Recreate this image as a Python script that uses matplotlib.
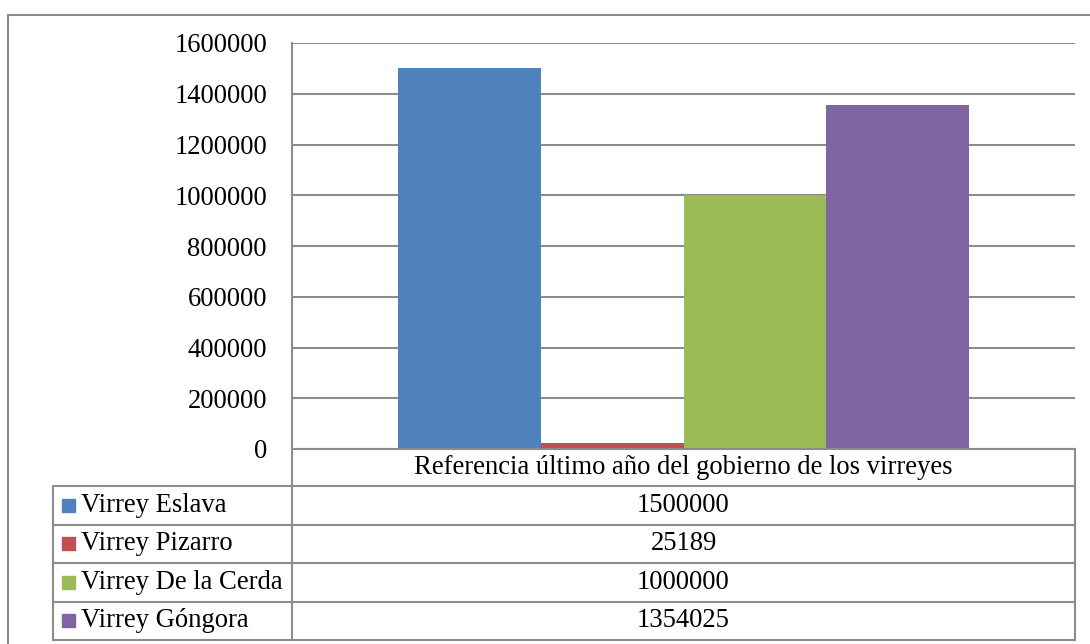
import matplotlib
matplotlib.use('Agg')
import matplotlib.pyplot as plt
from matplotlib.patches import Rectangle
from matplotlib.lines import Line2D

series = ['Virrey Eslava', 'Virrey Pizarro', 'Virrey De la Cerda', 'Virrey Góngora']
values = [1500000, 25189, 1000000, 1354025]
colors = ['#4F81BD', '#C0504D', '#9BBB59', '#8064A2']
category = 'Referencia último año del gobierno de los virreyes'
yticks = [0, 200000, 400000, 600000, 800000, 1000000, 1200000, 1400000, 1600000]

plt.rcParams['font.family'] = ['Liberation Serif', 'DejaVu Serif']
FS = 19.2
GRID = '#8C8C8C'

W, H = 1090, 644
fig = plt.figure(figsize=(W / 100, H / 100), dpi=100)

# pixel helpers (y measured from top)
def fx(px):
    return px / W

def fy(py):
    return 1 - py / H

left, right, top, zero = 292, 1075, 43, 449
ax = fig.add_axes([fx(left), fy(zero), fx(right - left), (zero - top) / H])

w = 0.1822
for i, (name, v, c) in enumerate(zip(series, values, colors)):
    ax.bar((i - 1.5) * w, v, width=w, color=c, zorder=3)

ax.set_xlim(-0.5, 0.5)
ax.set_ylim(0, 1600000)
ax.set_yticks(yticks)
ax.set_yticklabels([str(t) for t in yticks], fontsize=FS)
ax.tick_params(axis='y', length=0, pad=18)
ax.set_xticks([])
ax.yaxis.grid(True, color=GRID, linewidth=1.5, zorder=0)
for s in ['top', 'right', 'bottom']:
    ax.spines[s].set_visible(False)
ax.spines['left'].set_color(GRID)
ax.spines['left'].set_linewidth(1.5)

# outer chart border (runs off the right/bottom edge)
fig.patches.append(Rectangle((fx(8), fy(1200)), 2, fy(15) - fy(1200),
                             transform=fig.transFigure, fill=False,
                             edgecolor=GRID, linewidth=1.5))

# data table below the axis
def hline(y, x0, x1):
    fig.add_artist(Line2D([fx(x0), fx(x1)], [fy(y), fy(y)], color=GRID, linewidth=1.5))

def vline(x, y0, y1):
    fig.add_artist(Line2D([fx(x), fx(x)], [fy(y0), fy(y1)], color=GRID, linewidth=1.5))

rows = [449, 486, 524.5, 563, 601.5, 640]
hline(rows[0], left, right)
for y in rows[1:]:
    hline(y, 53, right)
vline(53, rows[1], rows[-1])
vline(left, zero, rows[-1])
vline(right, rows[0], rows[-1])

mid = (left + right) / 2
fig.text(fx(mid), fy((rows[0] + rows[1]) / 2), category, fontsize=FS,
         ha='center', va='center')
for i, (name, v, c) in enumerate(zip(series, values, colors)):
    yc = (rows[i + 1] + rows[i + 2]) / 2
    fig.patches.append(Rectangle((fx(62), fy(yc + 6.5)), fx(13), 13 / H,
                                 transform=fig.transFigure, color=c))
    fig.text(fx(81), fy(yc), name, fontsize=FS, ha='left', va='center')
    fig.text(fx(mid), fy(yc), str(v), fontsize=FS, ha='center', va='center')

fig.savefig('out.png', dpi=100)
